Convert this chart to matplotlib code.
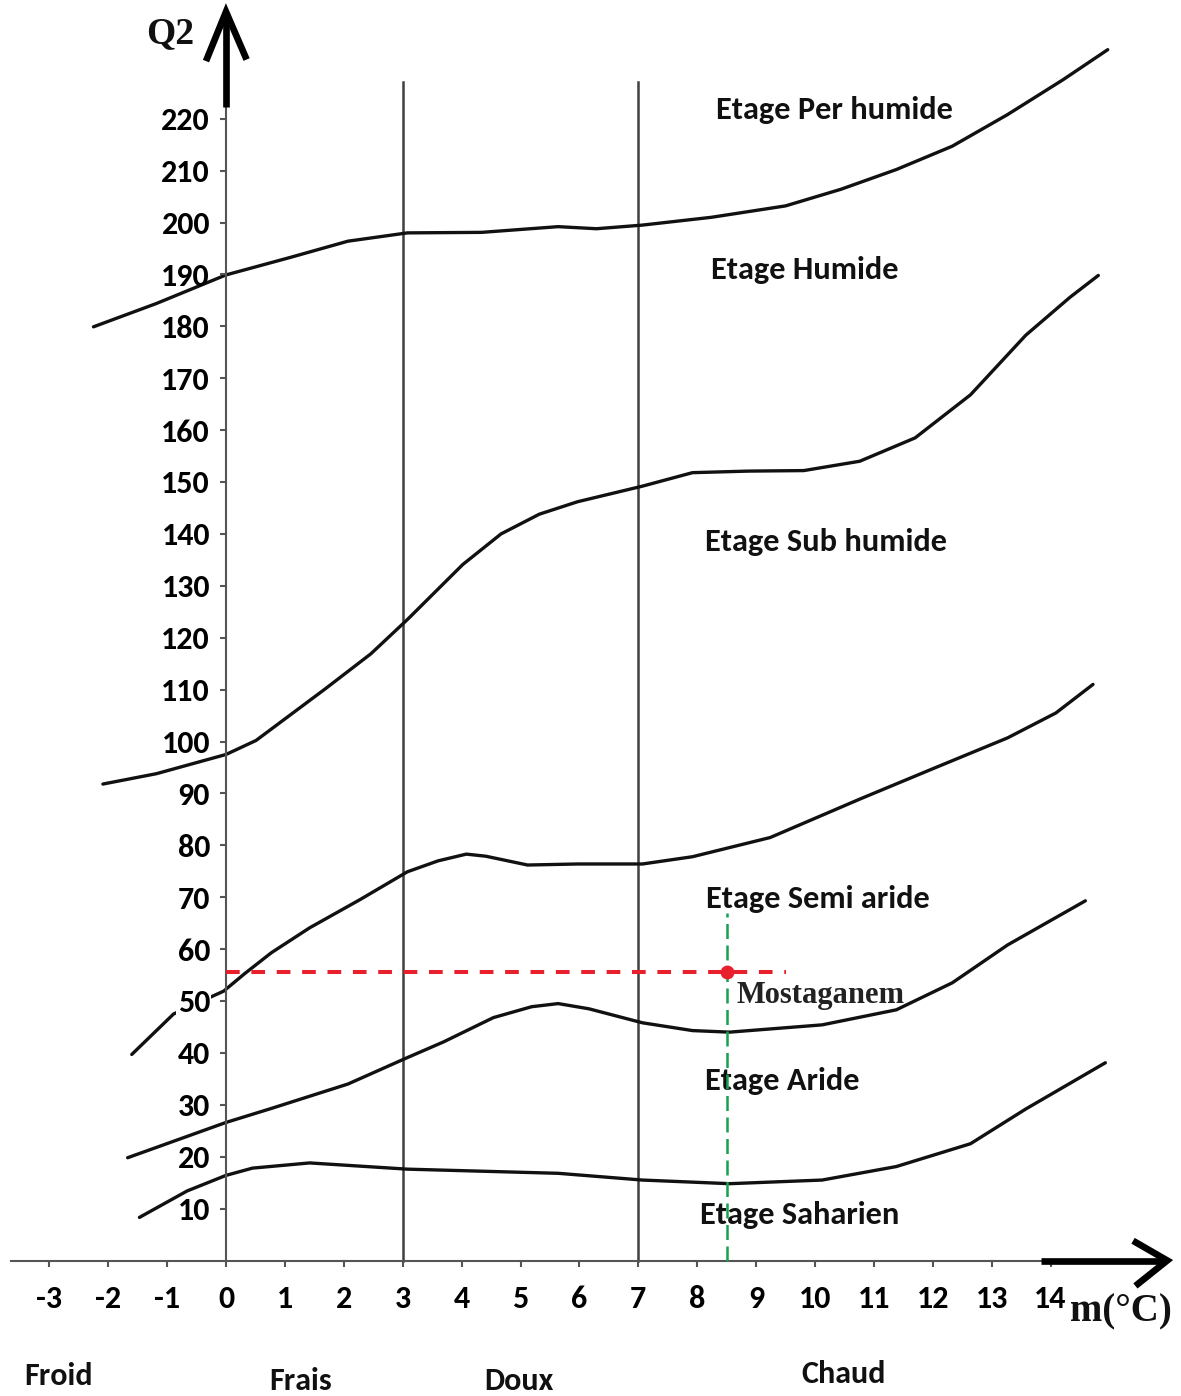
import matplotlib
matplotlib.use("Agg")
import matplotlib.pyplot as plt
import matplotlib.font_manager as fm

# ---------------- data ----------------
m_ticks = list(range(-3, 15))
q_ticks = list(range(10, 230, 10))

# Emberger climagram boundary curves (m in degC, Q2)
perhumid_m = [-2.25, -1.18, 0.0, 1.10, 2.07, 3.08, 4.34, 5.64, 6.29, 7.07, 8.24, 9.50, 10.44, 11.38, 12.33, 13.27, 14.21, 14.97]
perhumid_q = [179.9, 184.4, 189.9, 193.3, 196.4, 198.0, 198.1, 199.2, 198.8, 199.5, 201.0, 203.2, 206.4, 210.2, 214.7, 220.8, 227.5, 233.3]

humid_m = [-2.09, -1.18, 0.0, 0.51, 1.68, 2.46, 3.08, 4.02, 4.67, 5.32, 5.97, 7.07, 7.92, 8.87, 9.81, 10.76, 11.70, 12.64, 13.58, 14.33, 14.81]
humid_q = [91.8, 93.8, 97.5, 100.2, 110.1, 116.9, 123.5, 134.1, 140.0, 143.8, 146.2, 149.2, 151.8, 152.1, 152.2, 154.0, 158.5, 166.8, 178.3, 185.6, 189.8]

subhumid_m = [-1.60, -0.89, -0.04, 0.32, 0.77, 1.42, 2.27, 3.08, 3.60, 4.08, 4.41, 5.12, 5.97, 7.07, 7.92, 9.24, 10.76, 12.01, 13.27, 14.09, 14.72]
subhumid_q = [39.7, 47.5, 51.9, 55.3, 59.3, 64.1, 69.5, 74.9, 77.0, 78.3, 77.9, 76.2, 76.4, 76.4, 77.8, 81.5, 88.9, 94.8, 100.7, 105.5, 111.0]

semiarid_m = [-1.67, 0.0, 0.77, 2.07, 3.08, 3.69, 4.54, 5.19, 5.64, 6.16, 7.07, 7.92, 8.55, 10.12, 11.38, 12.33, 13.27, 14.59]
semiarid_q = [19.8, 26.6, 29.3, 34.0, 39.1, 42.1, 46.8, 48.9, 49.5, 48.5, 45.8, 44.3, 44.0, 45.4, 48.3, 53.5, 60.8, 69.3]

arid_m = [-1.47, -0.66, 0.0, 0.45, 1.42, 3.08, 5.64, 7.07, 8.55, 10.12, 11.38, 12.64, 13.58, 14.93]
arid_q = [8.3, 13.4, 16.4, 17.8, 18.8, 17.6, 16.8, 15.5, 14.8, 15.5, 18.1, 22.5, 29.2, 38.1]

curves_m = [perhumid_m, humid_m, subhumid_m, semiarid_m, arid_m]
curves_q = [perhumid_q, humid_q, subhumid_q, semiarid_q, arid_q]

winter_limits = [3, 7]
winter_limit_top = 227.0

station_name = "Mostaganem"
station_m = 8.5
station_q = 55.6

zone_names = ["Etage Per humide", "Etage Humide", "Etage Sub humide",
              "Etage Semi aride", "Etage Aride", "Etage Saharien"]
winter_names = ["Froid", "Frais", "Doux", "Chaud"]

# ---------------- layout ----------------
zone_pos = [(8.32, 220.0), (8.23, 189.2), (8.13, 136.7), (8.15, 67.9), (8.13, 32.9), (8.05, 7.0)]
winter_pos = [(-2.84, -24.0), (1.26, -24.9), (4.97, -24.9), (10.48, -23.6)]

avail = {f.name for f in fm.fontManager.ttflist}
sans_pref = ["Carlito", "Liberation Sans Narrow", "Roboto Condensed", "Roboto", "DejaVu Sans"]
SANS = next(f for f in sans_pref if f in avail)
fscale = {"Carlito": 1.0, "Liberation Sans Narrow": 1.0, "Roboto Condensed": 1.0,
          "Roboto": 0.84, "DejaVu Sans": 0.76}[SANS]
SERIF = "Liberation Serif" if "Liberation Serif" in avail else "DejaVu Serif"

plt.rcParams["font.family"] = [SANS, "DejaVu Sans"]
plt.rcParams["font.weight"] = "bold"

fig = plt.figure(figsize=(11.81, 13.96), dpi=100, facecolor="white")
ax = fig.add_axes([0, 0, 1, 1])
ax.set_facecolor("white")
ax.set_xlim(-226 / 58.9, (1181 - 226) / 58.9)
ax.set_ylim((1260.5 - 1396) / 5.19, 1260.5 / 5.19)
ax.set_axisbelow(False)

for s in ["top", "right"]:
    ax.spines[s].set_visible(False)
ax.spines["left"].set_position(("data", 0))
ax.spines["bottom"].set_position(("data", 0))
ax.spines["left"].set_bounds(0, 222.2)
ax.spines["bottom"].set_bounds(-3.65, 13.84)
for s in ["left", "bottom"]:
    ax.spines[s].set_color("#555555")
    ax.spines[s].set_linewidth(1.5)

ax.set_xticks(m_ticks, labels=[str(v) for v in m_ticks])
ax.set_yticks(q_ticks, labels=[str(v) for v in q_ticks])
ax.tick_params(axis="x", direction="out", length=4, width=1.5, color="#555555",
               labelcolor="black", pad=14, labelsize=23 * fscale)
ax.tick_params(axis="y", direction="out", length=4, width=1.5, color="#555555",
               labelcolor="black", pad=7.5, labelsize=23 * fscale)
for lab in ax.get_yticklabels():
    if lab.get_text() == "50":
        lab.set_bbox(dict(facecolor="white", edgecolor="none", pad=1))

# thick arrows at ends of axes
ax.plot([0, 0], [222.2, 240.0], color="black", lw=4.8, solid_capstyle="butt", zorder=4)
ax.plot([-0.34, 0, 0.35], [231.1, 240.6, 231.4], color="black", lw=4.8,
        solid_capstyle="butt", solid_joinstyle="miter", zorder=4)
ax.plot([13.84, 15.9], [0, 0], color="black", lw=4.8, solid_capstyle="butt", zorder=4)
ax.plot([15.40, 15.98, 15.44], [3.8, 0, -4.9], color="black", lw=4.8,
        solid_capstyle="butt", solid_joinstyle="miter", zorder=4)

# winter temperature limits
for xv in winter_limits:
    ax.plot([xv, xv], [0, winter_limit_top], color="#404040", lw=1.8, zorder=1.5)

# bioclimatic boundaries
for cm, cq in zip(curves_m, curves_q):
    ax.plot(cm, cq, color="#111111", lw=2.4, solid_joinstyle="round",
            solid_capstyle="round", zorder=2)

# zone labels
for name, (xm, yq) in zip(zone_names, zone_pos):
    ax.text(xm, yq, name, ha="left", va="baseline", fontsize=23.3 * fscale,
            fontweight="bold", color="#111111", zorder=3)

# station
ax.plot([0, 9.5], [station_q, station_q], color="#e8202e", lw=2.9,
        linestyle=(0, (3.4, 2.9)), zorder=5)
ax.plot([station_m, station_m], [0, 67.0], color="#16a050", lw=1.8,
        linestyle=(0, (6, 2.6)), zorder=5)
ax.plot([station_m], [station_q], marker="o", markersize=10, color="#e8202e",
        markeredgewidth=0, zorder=6)
ax.text(8.67, 49.6, station_name, ha="left", va="baseline", family=SERIF,
        fontweight="bold", fontsize=22, color="#222222", zorder=6)

# axis titles
ax.text(-1.35, 234.5, "Q2", ha="left", va="baseline", family=SERIF,
        fontweight="bold", fontsize=27, color="#111111")
ax.text(14.33, -11.8, "m(°C)", ha="left", va="baseline", family=SERIF,
        fontweight="bold", fontsize=28, color="#111111")

# winter variant labels
for name, (xm, yq) in zip(winter_names, winter_pos):
    ax.text(xm, yq, name, ha="center", va="baseline", fontsize=23 * fscale,
            fontweight="bold", color="#111111")

fig.savefig("out.png", dpi=100, facecolor="white")
